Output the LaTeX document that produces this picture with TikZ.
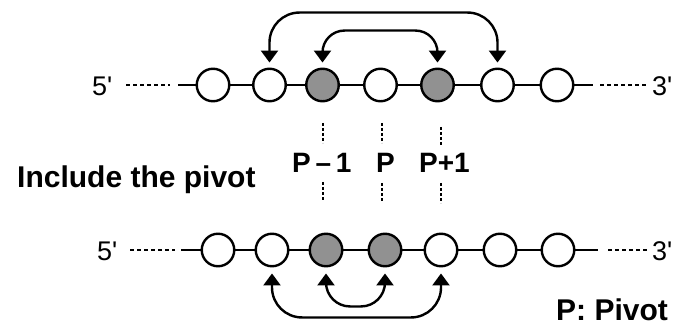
\documentclass[tikz,border=0pt]{standalone}
\usepackage{fontspec}
\setmainfont{Liberation Sans}
\usetikzlibrary{arrows.meta}
\definecolor{basegray}{RGB}{145,145,145}
\begin{document}
\begin{tikzpicture}[x=1pt,y=-1pt,
  base/.style={circle,draw=black,line width=2.4pt,minimum size=32.5pt,inner sep=0pt,fill=white},
  sel/.style={base,fill=basegray},
  bond/.style={line width=2.4pt},
  tail/.style={line width=2.2pt,dash pattern=on 4pt off 3pt},
  guide/.style={line width=2pt,dash pattern=on 3pt off 2pt},
  swap/.style={line width=2.4pt,{Triangle[width=17pt,length=12pt]}-{Triangle[width=17pt,length=12pt]}},
  primelab/.style={font=\fontsize{27}{30}\selectfont,inner sep=0pt,anchor=west},
  lab/.style={font=\bfseries\fontsize{28}{30}\selectfont,inner sep=0pt,anchor=base west},
  biglab/.style={font=\bfseries\fontsize{30}{32}\selectfont,inner sep=0pt,anchor=base west},
]
\useasboundingbox (0,0) rectangle (691,326);

% ---- top strand ----
\node[base] (t1) at (213,85) {};
\node[base] (t2) at (269.5,85) {};
\node[sel]  (t3) at (322.5,85) {};
\node[base] (t4) at (380.5,85) {};
\node[sel]  (t5) at (437.5,85) {};
\node[base] (t6) at (497.5,85) {};
\node[base] (t7) at (557,85) {};
\node[primelab] (t5p) at (92,86) {5\textquotesingle};
\node[primelab] (t3p) at (652,86) {3\textquotesingle};
\coordinate (tla) at (126,85);
\coordinate (tlb) at (170,85);
\coordinate (tlc) at (178,85);
\coordinate (tra) at (593,85);
\coordinate (trb) at (600,85);
\coordinate (trc) at (647,85);
\draw[tail] (tla) -- (tlb);
\draw[tail] (trb) -- (trc);
\draw[bond] (tlc) -- (t1);
\draw[bond] (t1) -- (t2);
\draw[bond] (t2) -- (t3);
\draw[bond] (t3) -- (t4);
\draw[bond] (t4) -- (t5);
\draw[bond] (t5) -- (t6);
\draw[bond] (t6) -- (t7);
\draw[bond] (t7) -- (tra);
\draw[swap,rounded corners=30pt] ([yshift=5pt]t2.north) -- ([yshift=55pt]t2.north) -- ([yshift=55pt]t6.north) -- ([yshift=5pt]t6.north);
\draw[swap,rounded corners=22pt] ([yshift=5pt]t3.north) -- ([yshift=37pt]t3.north) -- ([yshift=37pt]t5.north) -- ([yshift=5pt]t5.north);

% ---- bottom strand ----
\node[base] (b1) at (218,250) {};
\node[base] (b2) at (272,250) {};
\node[sel]  (b3) at (326,250) {};
\node[sel]  (b4) at (385,250) {};
\node[base] (b5) at (441,250) {};
\node[base] (b6) at (500,250) {};
\node[base] (b7) at (558,250) {};
\node[primelab] (b5p) at (97,251) {5\textquotesingle};
\node[primelab] (b3p) at (652,251) {3\textquotesingle};
\coordinate (bla) at (130,250);
\coordinate (blb) at (175,250);
\coordinate (blc) at (181,250);
\coordinate (bra) at (598,250);
\coordinate (brb) at (608,250);
\coordinate (brc) at (647,250);
\draw[tail] (bla) -- (blb);
\draw[tail] (brb) -- (brc);
\draw[bond] (blc) -- (b1);
\draw[bond] (b1) -- (b2);
\draw[bond] (b2) -- (b3);
\draw[bond] (b3) -- (b4);
\draw[bond] (b4) -- (b5);
\draw[bond] (b5) -- (b6);
\draw[bond] (b6) -- (b7);
\draw[bond] (b7) -- (bra);
\draw[swap,rounded corners=30pt] ([yshift=-6pt]b2.south) -- ([yshift=-50pt]b2.south) -- ([yshift=-50pt]b5.south) -- ([yshift=-6pt]b5.south);
\draw[swap,rounded corners=24pt] ([yshift=-6pt]b3.south) -- ([yshift=-39pt]b3.south) -- ([yshift=-39pt]b4.south) -- ([yshift=-6pt]b4.south);

% ---- labels ----
\node[lab] (pm) at (292,173) {P\,\textendash\,1};
\node[lab] (pp) at (376,173) {P};
\node[lab] (pn) at (419,173) {P+1};
\node[biglab] (inc) at (17,188) {Include the pivot};
\node[biglab] (leg) at (556,320) {P: Pivot};

% guides
\coordinate (g1a) at (323,123); \coordinate (g1b) at (323,143);
\coordinate (g2a) at (382,123); \coordinate (g2b) at (382,143);
\coordinate (g3a) at (441,127); \coordinate (g3b) at (441,146);
\coordinate (g4a) at (323,182); \coordinate (g4b) at (323,201);
\coordinate (g5a) at (382,183); \coordinate (g5b) at (382,202);
\coordinate (g6a) at (441,183); \coordinate (g6b) at (441,203);
\draw[guide] (g1a) -- (g1b);
\draw[guide] (g2a) -- (g2b);
\draw[guide] (g3a) -- (g3b);
\draw[guide] (g4a) -- (g4b);
\draw[guide] (g5a) -- (g5b);
\draw[guide] (g6a) -- (g6b);
\end{tikzpicture}
\end{document}
